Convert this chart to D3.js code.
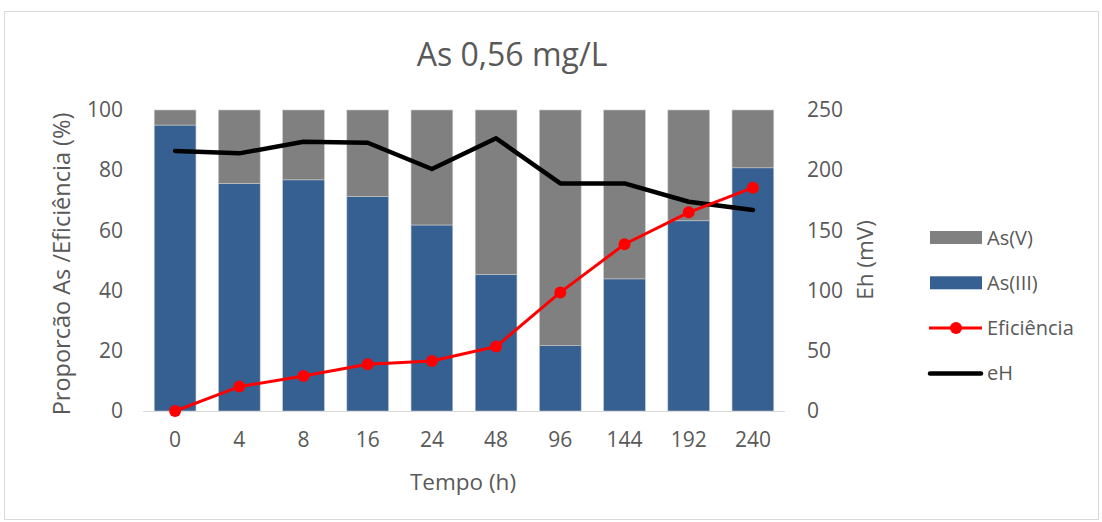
<!DOCTYPE html>
<html>
<head>
<meta charset="utf-8">
<script src="https://cdn.jsdelivr.net/npm/d3@7"></script>
<style>
  body { margin: 0; background: #fff; }
  svg text { font-family: "Open Sans", sans-serif; fill: #595959; }
</style>
</head>
<body>
<svg></svg>
<script>
// data
const tempos = ['0', '4', '8', '16', '24', '48', '96', '144', '192', '240']
const asIII = [95, 75.6, 76.8, 71.3, 61.8, 45.4, 21.7, 43.9, 63.2, 80.8]
const asV = [5, 24.4, 23.2, 28.7, 38.2, 54.6, 78.3, 56.1, 36.8, 19.2]
const eficiencia = [0, 8.1, 11.6, 15.5, 16.6, 21.4, 39.4, 55.4, 66, 74.2]
const eH = [216, 214, 223.7, 222.8, 201, 226.5, 189, 189, 173.8, 167]
const leftTicks = [0, 20, 40, 60, 80, 100]
const rightTicks = [0, 50, 100, 150, 200, 250]

const width = 1102, height = 522
const svg = d3.select('svg').attr('width', width).attr('height', height)

svg.append('rect')
  .attr('x', 4.5).attr('y', 11.5)
  .attr('width', 1094).attr('height', 508)
  .attr('fill', 'none').attr('stroke', '#d9d9d9')

const margin = { left: 143, right: 785, top: 110, bottom: 411 }

const x = d3.scaleBand()
  .domain(tempos)
  .range([margin.left, margin.right])
  .paddingInner(0.35)
  .paddingOuter(0.175)

const yL = d3.scaleLinear().domain([0, 100]).range([margin.bottom, margin.top])
const yR = d3.scaleLinear().domain([0, 250]).range([margin.bottom, margin.top])

const rows = tempos.map((t, i) => ({ t, iii: asIII[i], v: asV[i], ef: eficiencia[i], eh: eH[i] }))
const stack = d3.stack().keys(['iii', 'v'])(rows)
const colors = { iii: '#376092', v: '#808080' }

svg.append('g').selectAll('g')
  .data(stack)
  .join('g')
  .attr('fill', d => colors[d.key])
  .selectAll('rect')
  .data(d => d)
  .join('rect')
  .attr('x', d => x(d.data.t))
  .attr('y', d => yL(d[1]))
  .attr('width', x.bandwidth())
  .attr('height', d => yL(d[0]) - yL(d[1]))
  .attr('stroke', '#c9c9c9')
  .attr('stroke-width', 0.6)

// baseline
svg.append('line')
  .attr('x1', margin.left).attr('x2', margin.right)
  .attr('y1', margin.bottom + 0.5).attr('y2', margin.bottom + 0.5)
  .attr('stroke', '#d9d9d9').attr('stroke-width', 1.2)

const cx = t => x(t) + x.bandwidth() / 2

// eH line
svg.append('path')
  .datum(rows)
  .attr('fill', 'none')
  .attr('stroke', '#000')
  .attr('stroke-width', 4.5)
  .attr('stroke-linejoin', 'round')
  .attr('stroke-linecap', 'round')
  .attr('d', d3.line().x(d => cx(d.t)).y(d => yR(d.eh)))

// eficiencia line
svg.append('path')
  .datum(rows)
  .attr('fill', 'none')
  .attr('stroke', '#ff0000')
  .attr('stroke-width', 3)
  .attr('stroke-linejoin', 'round')
  .attr('d', d3.line().x(d => cx(d.t)).y(d => yL(d.ef)))

svg.append('g').selectAll('circle')
  .data(rows)
  .join('circle')
  .attr('cx', d => cx(d.t))
  .attr('cy', d => yL(d.ef))
  .attr('r', 6)
  .attr('fill', '#ff0000')

// axes
const styleTicks = g => {
  g.select('.domain').remove()
  g.selectAll('text').attr('font-size', 21).attr('font-family', '"Open Sans", sans-serif').attr('fill', '#595959')
}

svg.append('g')
  .attr('transform', `translate(${margin.left},0)`)
  .call(d3.axisLeft(yL).tickValues(leftTicks).tickSize(0).tickPadding(20))
  .call(styleTicks)

svg.append('g')
  .attr('transform', `translate(${margin.right},0)`)
  .call(d3.axisRight(yR).tickValues(rightTicks).tickSize(0).tickPadding(22))
  .call(styleTicks)

svg.append('g')
  .attr('transform', `translate(0,${margin.bottom})`)
  .call(d3.axisBottom(x).tickSize(0).tickPadding(21))
  .call(styleTicks)

// titles
svg.append('text')
  .attr('x', 512).attr('y', 66)
  .attr('text-anchor', 'middle')
  .attr('font-size', 32)
  .text('As 0,56 mg/L')

svg.append('text')
  .attr('x', 463).attr('y', 490)
  .attr('text-anchor', 'middle')
  .attr('font-size', 22.5)
  .text('Tempo (h)')

svg.append('text')
  .attr('transform', 'translate(70,264) rotate(-90)')
  .attr('text-anchor', 'middle')
  .attr('font-size', 23.5)
  .text('Proporcão As /Eficiência (%)')

svg.append('text')
  .attr('transform', 'translate(873,260) rotate(-90)')
  .attr('text-anchor', 'middle')
  .attr('font-size', 22.5)
  .text('Eh (mV)')

// legend
const legendItems = [
  { name: 'As(V)', type: 'rect', color: '#808080' },
  { name: 'As(III)', type: 'rect', color: '#376092' },
  { name: 'Eficiência', type: 'marker', color: '#ff0000' },
  { name: 'eH', type: 'line', color: '#000' }
]
const legend = svg.append('g')
legendItems.forEach((d, i) => {
  const yy = 237.5 + i * 45.3
  if (d.type === 'rect') {
    legend.append('rect').attr('x', 930).attr('y', yy - 6.5).attr('width', 52).attr('height', 13).attr('fill', d.color)
  } else if (d.type === 'marker') {
    legend.append('line').attr('x1', 929).attr('x2', 982).attr('y1', yy).attr('y2', yy).attr('stroke', d.color).attr('stroke-width', 3)
    legend.append('circle').attr('cx', 956).attr('cy', yy).attr('r', 6).attr('fill', d.color)
  } else {
    legend.append('line').attr('x1', 930).attr('x2', 981).attr('y1', yy).attr('y2', yy).attr('stroke', d.color).attr('stroke-width', 4.5).attr('stroke-linecap', 'round')
  }
  legend.append('text').attr('x', 987).attr('y', yy).attr('dy', '0.35em').attr('font-size', 20).text(d.name)
})
</script>
</body>
</html>
